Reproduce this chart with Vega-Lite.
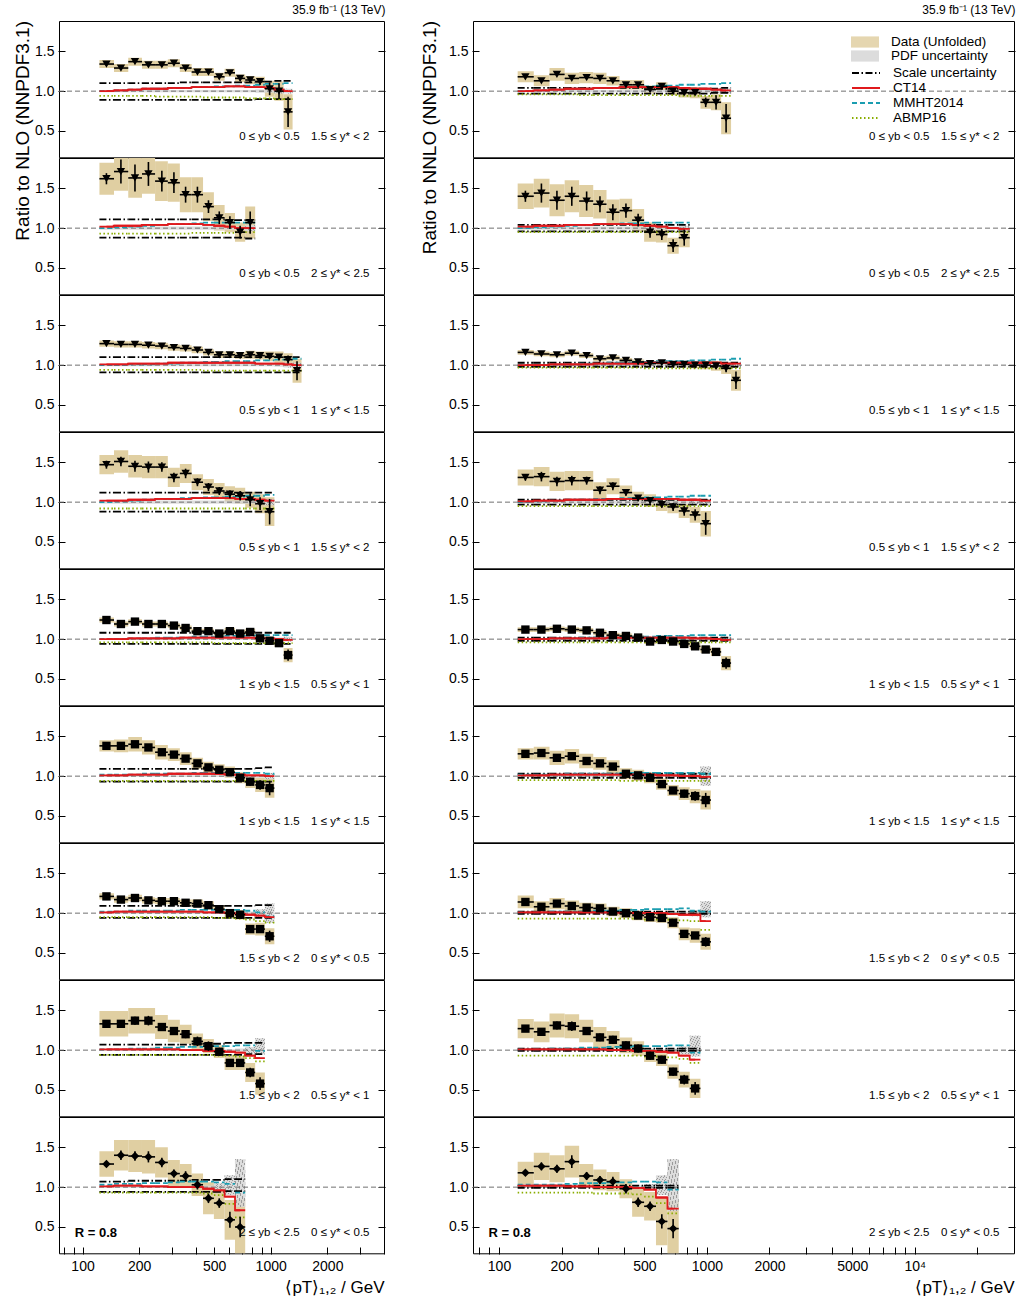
{
"$schema": "https://vega.github.io/schema/vega-lite/v6.json",
"background": "white",
"padding": {"left": 13, "top": 3, "right": 5, "bottom": 3},
"datasets": {
"L": [
{"p":1,"lab":"0 ≤ yb < 0.5\u2002\u20021.5 ≤ y* < 2"},
{"p":2,"lab":"0 ≤ yb < 0.5\u2002\u20022 ≤ y* < 2.5"},
{"p":3,"lab":"0.5 ≤ yb < 1\u2002\u20021 ≤ y* < 1.5"},
{"p":4,"lab":"0.5 ≤ yb < 1\u2002\u20021.5 ≤ y* < 2"},
{"p":5,"lab":"1 ≤ yb < 1.5\u2002\u20020.5 ≤ y* < 1"},
{"p":6,"lab":"1 ≤ yb < 1.5\u2002\u20021 ≤ y* < 1.5"},
{"p":7,"lab":"1.5 ≤ yb < 2\u2002\u20020 ≤ y* < 0.5"},
{"p":8,"lab":"1.5 ≤ yb < 2\u2002\u20020.5 ≤ y* < 1"},
{"p":9,"lab":"2 ≤ yb < 2.5\u2002\u20020 ≤ y* < 0.5"},
{"p":9,"r":"R = 0.8"},
{"p":1,"lo":123,"hi":147,"x":134,"v":1.34,"e":0.02,"bl":1.29,"bh":1.39,"ct":1.0,"mm":1.0,"ab":0.94,"su":1.1,"sd":0.89,"pl":0.985,"ph":1.015},
{"p":1,"lo":147,"hi":175,"x":160,"v":1.29,"e":0.02,"bl":1.24,"bh":1.34,"ct":1.01,"mm":1.01,"ab":0.94,"su":1.1,"sd":0.89,"pl":0.985,"ph":1.015},
{"p":1,"lo":175,"hi":207,"x":190,"v":1.37,"e":0.02,"bl":1.32,"bh":1.42,"ct":1.02,"mm":1.02,"ab":0.94,"su":1.1,"sd":0.89,"pl":0.985,"ph":1.015},
{"p":1,"lo":207,"hi":243,"x":224,"v":1.33,"e":0.02,"bl":1.28,"bh":1.38,"ct":1.03,"mm":1.03,"ab":0.94,"su":1.1,"sd":0.89,"pl":0.985,"ph":1.015},
{"p":1,"lo":243,"hi":284,"x":264,"v":1.33,"e":0.02,"bl":1.28,"bh":1.38,"ct":1.03,"mm":1.03,"ab":0.93,"su":1.1,"sd":0.89,"pl":0.985,"ph":1.015},
{"p":1,"lo":284,"hi":329,"x":306,"v":1.35,"e":0.02,"bl":1.3,"bh":1.4,"ct":1.04,"mm":1.04,"ab":0.93,"su":1.1,"sd":0.89,"pl":0.985,"ph":1.015},
{"p":1,"lo":329,"hi":380,"x":353,"v":1.29,"e":0.02,"bl":1.24,"bh":1.34,"ct":1.04,"mm":1.04,"ab":0.93,"su":1.11,"sd":0.89,"pl":0.985,"ph":1.015},
{"p":1,"lo":380,"hi":437,"x":408,"v":1.24,"e":0.02,"bl":1.19,"bh":1.29,"ct":1.05,"mm":1.05,"ab":0.93,"su":1.11,"sd":0.89,"pl":0.985,"ph":1.015},
{"p":1,"lo":437,"hi":499,"x":467,"v":1.24,"e":0.02,"bl":1.19,"bh":1.29,"ct":1.05,"mm":1.05,"ab":0.92,"su":1.11,"sd":0.89,"pl":0.985,"ph":1.015},
{"p":1,"lo":499,"hi":569,"x":533,"v":1.18,"e":0.02,"bl":1.13,"bh":1.23,"ct":1.05,"mm":1.06,"ab":0.92,"su":1.11,"sd":0.89,"pl":0.985,"ph":1.015},
{"p":1,"lo":569,"hi":646,"x":607,"v":1.23,"e":0.02,"bl":1.18,"bh":1.28,"ct":1.06,"mm":1.06,"ab":0.92,"su":1.11,"sd":0.89,"pl":0.985,"ph":1.015},
{"p":1,"lo":646,"hi":732,"x":688,"v":1.16,"e":0.03,"bl":1.11,"bh":1.21,"ct":1.06,"mm":1.07,"ab":0.92,"su":1.11,"sd":0.89,"pl":0.985,"ph":1.015},
{"p":1,"lo":732,"hi":827,"x":778,"v":1.14,"e":0.03,"bl":1.09,"bh":1.19,"ct":1.05,"mm":1.07,"ab":0.91,"su":1.11,"sd":0.89,"pl":0.985,"ph":1.015},
{"p":1,"lo":827,"hi":931,"x":878,"v":1.12,"e":0.04,"bl":1.06,"bh":1.18,"ct":1.05,"mm":1.08,"ab":0.91,"su":1.12,"sd":0.9,"pl":0.98,"ph":1.02},
{"p":1,"lo":931,"hi":1046,"x":987,"v":1.03,"e":0.08,"bl":0.93,"bh":1.13,"ct":1.04,"mm":1.09,"ab":0.91,"su":1.12,"sd":0.9,"pl":0.98,"ph":1.02},
{"p":1,"lo":1046,"hi":1171,"x":1107,"v":1.0,"e":0.1,"bl":0.88,"bh":1.12,"ct":1.02,"mm":1.09,"ab":0.9,"su":1.13,"sd":0.9,"pl":0.97,"ph":1.03},
{"p":1,"lo":1171,"hi":1307,"x":1237,"v":0.74,"e":0.19,"bl":0.52,"bh":0.96,"ct":1.0,"mm":1.1,"ab":0.9,"su":1.13,"sd":0.9,"pl":0.97,"ph":1.03},
{"p":2,"lo":123,"hi":147,"x":134,"v":1.62,"e":0.07,"bl":1.42,"bh":1.82,"ct":1.02,"mm":1.0,"ab":0.93,"su":1.11,"sd":0.88,"pl":0.98,"ph":1.02},
{"p":2,"lo":147,"hi":175,"x":160,"v":1.71,"e":0.15,"bl":1.47,"bh":1.95,"ct":1.03,"mm":1.01,"ab":0.93,"su":1.11,"sd":0.88,"pl":0.98,"ph":1.02},
{"p":2,"lo":175,"hi":207,"x":190,"v":1.63,"e":0.17,"bl":1.38,"bh":1.88,"ct":1.03,"mm":1.02,"ab":0.93,"su":1.11,"sd":0.88,"pl":0.98,"ph":1.02},
{"p":2,"lo":207,"hi":243,"x":224,"v":1.68,"e":0.15,"bl":1.43,"bh":1.93,"ct":1.04,"mm":1.03,"ab":0.93,"su":1.11,"sd":0.88,"pl":0.98,"ph":1.02},
{"p":2,"lo":243,"hi":284,"x":264,"v":1.59,"e":0.13,"bl":1.34,"bh":1.84,"ct":1.04,"mm":1.04,"ab":0.93,"su":1.11,"sd":0.88,"pl":0.98,"ph":1.02},
{"p":2,"lo":284,"hi":329,"x":306,"v":1.57,"e":0.13,"bl":1.33,"bh":1.81,"ct":1.05,"mm":1.05,"ab":0.93,"su":1.11,"sd":0.88,"pl":0.98,"ph":1.02},
{"p":2,"lo":329,"hi":380,"x":353,"v":1.42,"e":0.1,"bl":1.2,"bh":1.64,"ct":1.05,"mm":1.05,"ab":0.93,"su":1.11,"sd":0.88,"pl":0.98,"ph":1.02},
{"p":2,"lo":380,"hi":437,"x":408,"v":1.42,"e":0.1,"bl":1.2,"bh":1.64,"ct":1.05,"mm":1.06,"ab":0.94,"su":1.11,"sd":0.88,"pl":0.98,"ph":1.02},
{"p":2,"lo":437,"hi":499,"x":467,"v":1.27,"e":0.08,"bl":1.09,"bh":1.45,"ct":1.04,"mm":1.07,"ab":0.94,"su":1.11,"sd":0.88,"pl":0.98,"ph":1.02},
{"p":2,"lo":499,"hi":569,"x":533,"v":1.13,"e":0.08,"bl":0.97,"bh":1.29,"ct":1.03,"mm":1.07,"ab":0.94,"su":1.11,"sd":0.88,"pl":0.98,"ph":1.02},
{"p":2,"lo":569,"hi":646,"x":607,"v":1.07,"e":0.08,"bl":0.95,"bh":1.19,"ct":1.02,"mm":1.07,"ab":0.94,"su":1.1,"sd":0.88,"pl":0.98,"ph":1.02},
{"p":2,"lo":646,"hi":732,"x":688,"v":0.95,"e":0.08,"bl":0.83,"bh":1.07,"ct":1.0,"mm":1.07,"ab":0.95,"su":1.1,"sd":0.88,"pl":0.98,"ph":1.02},
{"p":2,"lo":732,"hi":827,"x":778,"v":1.07,"e":0.14,"bl":0.87,"bh":1.27,"ct":1.0,"mm":1.07,"ab":0.95,"su":1.1,"sd":0.87,"pl":0.96,"ph":1.04},
{"p":3,"lo":123,"hi":147,"x":134,"v":1.27,"e":0.02,"bl":1.23,"bh":1.31,"ct":1.01,"mm":1.0,"ab":0.94,"su":1.1,"sd":0.91,"pl":0.985,"ph":1.015},
{"p":3,"lo":147,"hi":175,"x":160,"v":1.26,"e":0.02,"bl":1.22,"bh":1.3,"ct":1.01,"mm":1.0,"ab":0.94,"su":1.1,"sd":0.91,"pl":0.985,"ph":1.015},
{"p":3,"lo":175,"hi":207,"x":190,"v":1.26,"e":0.02,"bl":1.22,"bh":1.3,"ct":1.02,"mm":1.01,"ab":0.94,"su":1.1,"sd":0.91,"pl":0.985,"ph":1.015},
{"p":3,"lo":207,"hi":243,"x":224,"v":1.25,"e":0.02,"bl":1.21,"bh":1.29,"ct":1.02,"mm":1.01,"ab":0.94,"su":1.1,"sd":0.91,"pl":0.985,"ph":1.015},
{"p":3,"lo":243,"hi":284,"x":264,"v":1.24,"e":0.02,"bl":1.2,"bh":1.28,"ct":1.02,"mm":1.02,"ab":0.94,"su":1.1,"sd":0.91,"pl":0.985,"ph":1.015},
{"p":3,"lo":284,"hi":329,"x":306,"v":1.22,"e":0.02,"bl":1.18,"bh":1.26,"ct":1.03,"mm":1.02,"ab":0.94,"su":1.1,"sd":0.91,"pl":0.985,"ph":1.015},
{"p":3,"lo":329,"hi":380,"x":353,"v":1.21,"e":0.02,"bl":1.17,"bh":1.25,"ct":1.03,"mm":1.03,"ab":0.94,"su":1.1,"sd":0.91,"pl":0.985,"ph":1.015},
{"p":3,"lo":380,"hi":437,"x":408,"v":1.19,"e":0.02,"bl":1.15,"bh":1.23,"ct":1.03,"mm":1.03,"ab":0.94,"su":1.1,"sd":0.91,"pl":0.985,"ph":1.015},
{"p":3,"lo":437,"hi":499,"x":467,"v":1.16,"e":0.02,"bl":1.12,"bh":1.2,"ct":1.03,"mm":1.04,"ab":0.93,"su":1.1,"sd":0.91,"pl":0.985,"ph":1.015},
{"p":3,"lo":499,"hi":569,"x":533,"v":1.13,"e":0.02,"bl":1.09,"bh":1.17,"ct":1.03,"mm":1.04,"ab":0.93,"su":1.1,"sd":0.91,"pl":0.985,"ph":1.015},
{"p":3,"lo":569,"hi":646,"x":607,"v":1.13,"e":0.02,"bl":1.09,"bh":1.17,"ct":1.03,"mm":1.05,"ab":0.93,"su":1.1,"sd":0.91,"pl":0.985,"ph":1.015},
{"p":3,"lo":646,"hi":732,"x":688,"v":1.12,"e":0.02,"bl":1.08,"bh":1.16,"ct":1.03,"mm":1.05,"ab":0.93,"su":1.1,"sd":0.91,"pl":0.985,"ph":1.015},
{"p":3,"lo":732,"hi":827,"x":778,"v":1.13,"e":0.02,"bl":1.08,"bh":1.18,"ct":1.03,"mm":1.05,"ab":0.93,"su":1.1,"sd":0.91,"pl":0.985,"ph":1.015},
{"p":3,"lo":827,"hi":931,"x":878,"v":1.12,"e":0.03,"bl":1.07,"bh":1.17,"ct":1.02,"mm":1.06,"ab":0.93,"su":1.1,"sd":0.91,"pl":0.985,"ph":1.015},
{"p":3,"lo":931,"hi":1046,"x":987,"v":1.11,"e":0.03,"bl":1.05,"bh":1.17,"ct":1.02,"mm":1.06,"ab":0.93,"su":1.1,"sd":0.91,"pl":0.985,"ph":1.015},
{"p":3,"lo":1046,"hi":1171,"x":1107,"v":1.1,"e":0.04,"bl":1.03,"bh":1.17,"ct":1.02,"mm":1.07,"ab":0.93,"su":1.1,"sd":0.91,"pl":0.98,"ph":1.02},
{"p":3,"lo":1171,"hi":1307,"x":1237,"v":1.07,"e":0.05,"bl":0.99,"bh":1.15,"ct":1.01,"mm":1.07,"ab":0.93,"su":1.1,"sd":0.91,"pl":0.97,"ph":1.03},
{"p":3,"lo":1307,"hi":1458,"x":1380,"v":0.93,"e":0.12,"bl":0.78,"bh":1.08,"ct":1.0,"mm":1.08,"ab":0.93,"su":1.1,"sd":0.91,"pl":0.97,"ph":1.03},
{"p":4,"lo":123,"hi":147,"x":134,"v":1.47,"e":0.05,"bl":1.35,"bh":1.59,"ct":1.02,"mm":1.0,"ab":0.92,"su":1.12,"sd":0.88,"pl":0.98,"ph":1.02},
{"p":4,"lo":147,"hi":175,"x":160,"v":1.51,"e":0.06,"bl":1.37,"bh":1.65,"ct":1.02,"mm":1.01,"ab":0.92,"su":1.12,"sd":0.88,"pl":0.98,"ph":1.02},
{"p":4,"lo":175,"hi":207,"x":190,"v":1.45,"e":0.07,"bl":1.31,"bh":1.59,"ct":1.03,"mm":1.02,"ab":0.92,"su":1.12,"sd":0.88,"pl":0.98,"ph":1.02},
{"p":4,"lo":207,"hi":243,"x":224,"v":1.44,"e":0.07,"bl":1.3,"bh":1.58,"ct":1.03,"mm":1.03,"ab":0.92,"su":1.12,"sd":0.88,"pl":0.98,"ph":1.02},
{"p":4,"lo":243,"hi":284,"x":264,"v":1.44,"e":0.06,"bl":1.3,"bh":1.58,"ct":1.04,"mm":1.04,"ab":0.92,"su":1.12,"sd":0.88,"pl":0.98,"ph":1.02},
{"p":4,"lo":284,"hi":329,"x":306,"v":1.31,"e":0.06,"bl":1.19,"bh":1.43,"ct":1.04,"mm":1.04,"ab":0.92,"su":1.12,"sd":0.88,"pl":0.98,"ph":1.02},
{"p":4,"lo":329,"hi":380,"x":353,"v":1.36,"e":0.06,"bl":1.24,"bh":1.48,"ct":1.04,"mm":1.05,"ab":0.92,"su":1.12,"sd":0.88,"pl":0.98,"ph":1.02},
{"p":4,"lo":380,"hi":437,"x":408,"v":1.25,"e":0.05,"bl":1.15,"bh":1.35,"ct":1.05,"mm":1.05,"ab":0.92,"su":1.12,"sd":0.88,"pl":0.98,"ph":1.02},
{"p":4,"lo":437,"hi":499,"x":467,"v":1.19,"e":0.05,"bl":1.09,"bh":1.29,"ct":1.05,"mm":1.06,"ab":0.92,"su":1.12,"sd":0.88,"pl":0.98,"ph":1.02},
{"p":4,"lo":499,"hi":569,"x":533,"v":1.14,"e":0.05,"bl":1.04,"bh":1.24,"ct":1.05,"mm":1.06,"ab":0.92,"su":1.12,"sd":0.88,"pl":0.98,"ph":1.02},
{"p":4,"lo":569,"hi":646,"x":607,"v":1.1,"e":0.05,"bl":1.0,"bh":1.2,"ct":1.05,"mm":1.07,"ab":0.92,"su":1.12,"sd":0.88,"pl":0.98,"ph":1.02},
{"p":4,"lo":646,"hi":732,"x":688,"v":1.08,"e":0.06,"bl":0.98,"bh":1.18,"ct":1.04,"mm":1.07,"ab":0.92,"su":1.12,"sd":0.88,"pl":0.98,"ph":1.02},
{"p":4,"lo":732,"hi":827,"x":778,"v":1.03,"e":0.08,"bl":0.93,"bh":1.13,"ct":1.04,"mm":1.08,"ab":0.92,"su":1.12,"sd":0.88,"pl":0.98,"ph":1.02},
{"p":4,"lo":827,"hi":931,"x":878,"v":0.98,"e":0.08,"bl":0.86,"bh":1.1,"ct":1.03,"mm":1.08,"ab":0.92,"su":1.12,"sd":0.88,"pl":0.97,"ph":1.03},
{"p":4,"lo":931,"hi":1046,"x":987,"v":0.88,"e":0.16,"bl":0.7,"bh":1.06,"ct":1.02,"mm":1.09,"ab":0.92,"su":1.12,"sd":0.88,"pl":0.96,"ph":1.04},
{"p":5,"lo":123,"hi":147,"x":134,"v":1.24,"e":0.01,"bl":1.21,"bh":1.27,"ct":1.0,"mm":1.0,"ab":0.96,"su":1.08,"sd":0.94,"pl":0.99,"ph":1.01},
{"p":5,"lo":147,"hi":175,"x":160,"v":1.19,"e":0.01,"bl":1.16,"bh":1.22,"ct":1.0,"mm":1.0,"ab":0.96,"su":1.08,"sd":0.94,"pl":0.99,"ph":1.01},
{"p":5,"lo":175,"hi":207,"x":190,"v":1.22,"e":0.01,"bl":1.19,"bh":1.25,"ct":1.01,"mm":1.01,"ab":0.96,"su":1.08,"sd":0.94,"pl":0.99,"ph":1.01},
{"p":5,"lo":207,"hi":243,"x":224,"v":1.19,"e":0.01,"bl":1.16,"bh":1.22,"ct":1.01,"mm":1.01,"ab":0.96,"su":1.08,"sd":0.94,"pl":0.99,"ph":1.01},
{"p":5,"lo":243,"hi":284,"x":264,"v":1.19,"e":0.01,"bl":1.16,"bh":1.22,"ct":1.01,"mm":1.02,"ab":0.96,"su":1.08,"sd":0.94,"pl":0.99,"ph":1.01},
{"p":5,"lo":284,"hi":329,"x":306,"v":1.17,"e":0.01,"bl":1.14,"bh":1.2,"ct":1.01,"mm":1.02,"ab":0.96,"su":1.08,"sd":0.94,"pl":0.99,"ph":1.01},
{"p":5,"lo":329,"hi":380,"x":353,"v":1.14,"e":0.01,"bl":1.11,"bh":1.17,"ct":1.02,"mm":1.02,"ab":0.96,"su":1.08,"sd":0.94,"pl":0.99,"ph":1.01},
{"p":5,"lo":380,"hi":437,"x":408,"v":1.1,"e":0.01,"bl":1.07,"bh":1.13,"ct":1.02,"mm":1.03,"ab":0.96,"su":1.08,"sd":0.94,"pl":0.99,"ph":1.01},
{"p":5,"lo":437,"hi":499,"x":467,"v":1.1,"e":0.01,"bl":1.07,"bh":1.13,"ct":1.02,"mm":1.03,"ab":0.96,"su":1.08,"sd":0.94,"pl":0.99,"ph":1.01},
{"p":5,"lo":499,"hi":569,"x":533,"v":1.07,"e":0.01,"bl":1.04,"bh":1.1,"ct":1.02,"mm":1.03,"ab":0.95,"su":1.08,"sd":0.94,"pl":0.99,"ph":1.01},
{"p":5,"lo":569,"hi":646,"x":607,"v":1.1,"e":0.01,"bl":1.06,"bh":1.14,"ct":1.02,"mm":1.04,"ab":0.95,"su":1.08,"sd":0.94,"pl":0.99,"ph":1.01},
{"p":5,"lo":646,"hi":732,"x":688,"v":1.07,"e":0.01,"bl":1.03,"bh":1.11,"ct":1.02,"mm":1.04,"ab":0.95,"su":1.08,"sd":0.94,"pl":0.99,"ph":1.01},
{"p":5,"lo":732,"hi":827,"x":778,"v":1.09,"e":0.01,"bl":1.05,"bh":1.13,"ct":1.02,"mm":1.04,"ab":0.95,"su":1.08,"sd":0.94,"pl":0.99,"ph":1.01},
{"p":5,"lo":827,"hi":931,"x":878,"v":1.01,"e":0.02,"bl":0.97,"bh":1.05,"ct":1.01,"mm":1.05,"ab":0.95,"su":1.08,"sd":0.94,"pl":0.99,"ph":1.01},
{"p":5,"lo":931,"hi":1046,"x":987,"v":0.98,"e":0.03,"bl":0.93,"bh":1.03,"ct":1.01,"mm":1.05,"ab":0.95,"su":1.08,"sd":0.94,"pl":0.98,"ph":1.02},
{"p":5,"lo":1046,"hi":1171,"x":1107,"v":0.95,"e":0.03,"bl":0.9,"bh":1.0,"ct":1.0,"mm":1.05,"ab":0.95,"su":1.08,"sd":0.94,"pl":0.98,"ph":1.02},
{"p":5,"lo":1171,"hi":1307,"x":1237,"v":0.8,"e":0.07,"bl":0.71,"bh":0.89,"ct":0.99,"mm":1.05,"ab":0.95,"su":1.08,"sd":0.94,"pl":0.97,"ph":1.03},
{"p":6,"lo":123,"hi":147,"x":134,"v":1.38,"e":0.02,"bl":1.31,"bh":1.45,"ct":1.01,"mm":1.02,"ab":0.94,"su":1.09,"sd":0.93,"pl":0.99,"ph":1.01},
{"p":6,"lo":147,"hi":175,"x":160,"v":1.38,"e":0.03,"bl":1.3,"bh":1.46,"ct":1.01,"mm":1.02,"ab":0.94,"su":1.09,"sd":0.93,"pl":0.99,"ph":1.01},
{"p":6,"lo":175,"hi":207,"x":190,"v":1.4,"e":0.04,"bl":1.31,"bh":1.49,"ct":1.02,"mm":1.02,"ab":0.94,"su":1.09,"sd":0.93,"pl":0.99,"ph":1.01},
{"p":6,"lo":207,"hi":243,"x":224,"v":1.36,"e":0.04,"bl":1.27,"bh":1.45,"ct":1.02,"mm":1.03,"ab":0.94,"su":1.09,"sd":0.93,"pl":0.99,"ph":1.01},
{"p":6,"lo":243,"hi":284,"x":264,"v":1.3,"e":0.04,"bl":1.21,"bh":1.39,"ct":1.02,"mm":1.03,"ab":0.94,"su":1.09,"sd":0.93,"pl":0.99,"ph":1.01},
{"p":6,"lo":284,"hi":329,"x":306,"v":1.27,"e":0.03,"bl":1.19,"bh":1.35,"ct":1.03,"mm":1.03,"ab":0.94,"su":1.09,"sd":0.93,"pl":0.99,"ph":1.01},
{"p":6,"lo":329,"hi":380,"x":353,"v":1.22,"e":0.03,"bl":1.14,"bh":1.3,"ct":1.03,"mm":1.03,"ab":0.94,"su":1.09,"sd":0.93,"pl":0.99,"ph":1.01},
{"p":6,"lo":380,"hi":437,"x":408,"v":1.16,"e":0.03,"bl":1.09,"bh":1.23,"ct":1.03,"mm":1.04,"ab":0.94,"su":1.09,"sd":0.93,"pl":0.99,"ph":1.01},
{"p":6,"lo":437,"hi":499,"x":467,"v":1.11,"e":0.03,"bl":1.04,"bh":1.18,"ct":1.03,"mm":1.04,"ab":0.94,"su":1.09,"sd":0.93,"pl":0.99,"ph":1.01},
{"p":6,"lo":499,"hi":569,"x":533,"v":1.08,"e":0.03,"bl":1.01,"bh":1.15,"ct":1.03,"mm":1.04,"ab":0.94,"su":1.09,"sd":0.93,"pl":0.99,"ph":1.01},
{"p":6,"lo":569,"hi":646,"x":607,"v":1.05,"e":0.03,"bl":0.98,"bh":1.12,"ct":1.02,"mm":1.04,"ab":0.94,"su":1.09,"sd":0.93,"pl":0.99,"ph":1.01},
{"p":6,"lo":646,"hi":732,"x":688,"v":0.98,"e":0.04,"bl":0.91,"bh":1.05,"ct":1.02,"mm":1.04,"ab":0.94,"su":1.09,"sd":0.93,"pl":0.99,"ph":1.01},
{"p":6,"lo":732,"hi":827,"x":778,"v":0.93,"e":0.05,"bl":0.85,"bh":1.01,"ct":1.01,"mm":1.04,"ab":0.94,"su":1.09,"sd":0.93,"pl":0.98,"ph":1.02},
{"p":6,"lo":827,"hi":931,"x":878,"v":0.89,"e":0.06,"bl":0.8,"bh":0.98,"ct":1.01,"mm":1.04,"ab":0.94,"su":1.1,"sd":0.93,"pl":0.98,"ph":1.02},
{"p":6,"lo":931,"hi":1046,"x":987,"v":0.85,"e":0.09,"bl":0.73,"bh":0.97,"ct":1.0,"mm":1.03,"ab":0.94,"su":1.11,"sd":0.93,"pl":0.96,"ph":1.04},
{"p":7,"lo":123,"hi":147,"x":134,"v":1.21,"e":0.01,"bl":1.17,"bh":1.25,"ct":1.01,"mm":1.02,"ab":0.95,"su":1.09,"sd":0.94,"pl":0.99,"ph":1.01},
{"p":7,"lo":147,"hi":175,"x":160,"v":1.17,"e":0.01,"bl":1.13,"bh":1.21,"ct":1.02,"mm":1.02,"ab":0.95,"su":1.09,"sd":0.94,"pl":0.99,"ph":1.01},
{"p":7,"lo":175,"hi":207,"x":190,"v":1.19,"e":0.01,"bl":1.15,"bh":1.23,"ct":1.02,"mm":1.03,"ab":0.95,"su":1.09,"sd":0.94,"pl":0.99,"ph":1.01},
{"p":7,"lo":207,"hi":243,"x":224,"v":1.16,"e":0.01,"bl":1.12,"bh":1.2,"ct":1.02,"mm":1.03,"ab":0.95,"su":1.09,"sd":0.94,"pl":0.99,"ph":1.01},
{"p":7,"lo":243,"hi":284,"x":264,"v":1.15,"e":0.01,"bl":1.11,"bh":1.19,"ct":1.02,"mm":1.03,"ab":0.95,"su":1.09,"sd":0.94,"pl":0.99,"ph":1.01},
{"p":7,"lo":284,"hi":329,"x":306,"v":1.15,"e":0.01,"bl":1.11,"bh":1.19,"ct":1.02,"mm":1.03,"ab":0.95,"su":1.09,"sd":0.94,"pl":0.99,"ph":1.01},
{"p":7,"lo":329,"hi":380,"x":353,"v":1.13,"e":0.01,"bl":1.09,"bh":1.17,"ct":1.02,"mm":1.04,"ab":0.95,"su":1.09,"sd":0.94,"pl":0.99,"ph":1.01},
{"p":7,"lo":380,"hi":437,"x":408,"v":1.12,"e":0.02,"bl":1.07,"bh":1.17,"ct":1.02,"mm":1.04,"ab":0.95,"su":1.09,"sd":0.94,"pl":0.99,"ph":1.01},
{"p":7,"lo":437,"hi":499,"x":467,"v":1.1,"e":0.02,"bl":1.05,"bh":1.15,"ct":1.01,"mm":1.04,"ab":0.95,"su":1.09,"sd":0.94,"pl":0.99,"ph":1.01},
{"p":7,"lo":499,"hi":569,"x":533,"v":1.05,"e":0.02,"bl":1.0,"bh":1.1,"ct":1.01,"mm":1.04,"ab":0.94,"su":1.09,"sd":0.94,"pl":0.99,"ph":1.01},
{"p":7,"lo":569,"hi":646,"x":607,"v":1.0,"e":0.02,"bl":0.95,"bh":1.05,"ct":1.0,"mm":1.04,"ab":0.94,"su":1.09,"sd":0.94,"pl":0.99,"ph":1.01},
{"p":7,"lo":646,"hi":732,"x":688,"v":0.98,"e":0.03,"bl":0.92,"bh":1.04,"ct":0.99,"mm":1.04,"ab":0.93,"su":1.09,"sd":0.94,"pl":0.98,"ph":1.02},
{"p":7,"lo":732,"hi":827,"x":778,"v":0.8,"e":0.04,"bl":0.73,"bh":0.87,"ct":0.98,"mm":1.03,"ab":0.92,"su":1.09,"sd":0.94,"pl":0.98,"ph":1.02},
{"p":7,"lo":827,"hi":931,"x":878,"v":0.8,"e":0.05,"bl":0.72,"bh":0.88,"ct":0.97,"mm":1.01,"ab":0.9,"su":1.1,"sd":0.94,"pl":0.95,"ph":1.05},
{"p":7,"lo":931,"hi":1046,"x":987,"v":0.71,"e":0.07,"bl":0.61,"bh":0.81,"ct":0.95,"mm":0.96,"ab":0.88,"su":1.1,"sd":0.94,"pl":0.88,"ph":1.12},
{"p":8,"lo":123,"hi":147,"x":134,"v":1.33,"e":0.03,"bl":1.17,"bh":1.49,"ct":1.01,"mm":1.01,"ab":0.94,"su":1.07,"sd":0.94,"pl":0.99,"ph":1.01},
{"p":8,"lo":147,"hi":175,"x":160,"v":1.33,"e":0.04,"bl":1.17,"bh":1.49,"ct":1.01,"mm":1.01,"ab":0.94,"su":1.07,"sd":0.94,"pl":0.99,"ph":1.01},
{"p":8,"lo":175,"hi":207,"x":190,"v":1.37,"e":0.05,"bl":1.21,"bh":1.53,"ct":1.01,"mm":1.02,"ab":0.94,"su":1.07,"sd":0.94,"pl":0.99,"ph":1.01},
{"p":8,"lo":207,"hi":243,"x":224,"v":1.37,"e":0.06,"bl":1.21,"bh":1.53,"ct":1.01,"mm":1.02,"ab":0.94,"su":1.07,"sd":0.94,"pl":0.99,"ph":1.01},
{"p":8,"lo":243,"hi":284,"x":264,"v":1.29,"e":0.05,"bl":1.14,"bh":1.44,"ct":1.01,"mm":1.03,"ab":0.94,"su":1.07,"sd":0.94,"pl":0.99,"ph":1.01},
{"p":8,"lo":284,"hi":329,"x":306,"v":1.24,"e":0.05,"bl":1.1,"bh":1.38,"ct":1.01,"mm":1.03,"ab":0.94,"su":1.07,"sd":0.94,"pl":0.99,"ph":1.01},
{"p":8,"lo":329,"hi":380,"x":353,"v":1.2,"e":0.05,"bl":1.08,"bh":1.32,"ct":1.0,"mm":1.04,"ab":0.94,"su":1.07,"sd":0.94,"pl":0.99,"ph":1.01},
{"p":8,"lo":380,"hi":437,"x":408,"v":1.11,"e":0.06,"bl":1.01,"bh":1.21,"ct":1.0,"mm":1.04,"ab":0.94,"su":1.08,"sd":0.94,"pl":0.99,"ph":1.01},
{"p":8,"lo":437,"hi":499,"x":467,"v":1.05,"e":0.06,"bl":0.96,"bh":1.14,"ct":0.99,"mm":1.05,"ab":0.94,"su":1.08,"sd":0.94,"pl":0.99,"ph":1.01},
{"p":8,"lo":499,"hi":569,"x":533,"v":0.98,"e":0.05,"bl":0.9,"bh":1.06,"ct":0.99,"mm":1.05,"ab":0.93,"su":1.08,"sd":0.94,"pl":0.99,"ph":1.01},
{"p":8,"lo":569,"hi":646,"x":607,"v":0.84,"e":0.05,"bl":0.75,"bh":0.93,"ct":0.98,"mm":1.05,"ab":0.93,"su":1.09,"sd":0.94,"pl":0.99,"ph":1.01},
{"p":8,"lo":646,"hi":732,"x":688,"v":0.84,"e":0.05,"bl":0.75,"bh":0.93,"ct":0.97,"mm":1.06,"ab":0.92,"su":1.09,"sd":0.94,"pl":0.98,"ph":1.02},
{"p":8,"lo":732,"hi":827,"x":778,"v":0.72,"e":0.06,"bl":0.6,"bh":0.84,"ct":0.93,"mm":1.06,"ab":0.9,"su":1.09,"sd":0.95,"pl":0.96,"ph":1.04},
{"p":8,"lo":827,"hi":931,"x":878,"v":0.58,"e":0.08,"bl":0.44,"bh":0.72,"ct":0.9,"mm":0.99,"ab":0.86,"su":1.09,"sd":0.95,"pl":0.95,"ph":1.15},
{"p":9,"lo":123,"hi":147,"x":134,"v":1.29,"e":0.02,"bl":1.13,"bh":1.45,"ct":1.01,"mm":1.03,"ab":0.93,"su":1.07,"sd":0.94,"pl":0.99,"ph":1.01},
{"p":9,"lo":147,"hi":175,"x":160,"v":1.4,"e":0.06,"bl":1.21,"bh":1.59,"ct":1.02,"mm":1.04,"ab":0.93,"su":1.07,"sd":0.94,"pl":0.99,"ph":1.01},
{"p":9,"lo":175,"hi":207,"x":190,"v":1.39,"e":0.06,"bl":1.19,"bh":1.59,"ct":1.02,"mm":1.04,"ab":0.93,"su":1.08,"sd":0.94,"pl":0.99,"ph":1.01},
{"p":9,"lo":207,"hi":243,"x":224,"v":1.38,"e":0.07,"bl":1.17,"bh":1.59,"ct":1.01,"mm":1.05,"ab":0.93,"su":1.08,"sd":0.94,"pl":0.99,"ph":1.01},
{"p":9,"lo":243,"hi":284,"x":264,"v":1.31,"e":0.06,"bl":1.12,"bh":1.5,"ct":1.01,"mm":1.05,"ab":0.93,"su":1.08,"sd":0.94,"pl":0.99,"ph":1.01},
{"p":9,"lo":284,"hi":329,"x":306,"v":1.17,"e":0.05,"bl":1.0,"bh":1.34,"ct":1.0,"mm":1.06,"ab":0.93,"su":1.08,"sd":0.94,"pl":0.99,"ph":1.01},
{"p":9,"lo":329,"hi":380,"x":353,"v":1.14,"e":0.06,"bl":0.99,"bh":1.29,"ct":1.0,"mm":1.07,"ab":0.93,"su":1.08,"sd":0.94,"pl":0.99,"ph":1.01},
{"p":9,"lo":380,"hi":437,"x":408,"v":1.03,"e":0.06,"bl":0.89,"bh":1.17,"ct":1.0,"mm":1.07,"ab":0.93,"su":1.09,"sd":0.94,"pl":0.99,"ph":1.01},
{"p":9,"lo":437,"hi":499,"x":467,"v":0.86,"e":0.06,"bl":0.66,"bh":1.06,"ct":0.98,"mm":1.07,"ab":0.92,"su":1.09,"sd":0.94,"pl":0.98,"ph":1.02},
{"p":9,"lo":499,"hi":569,"x":533,"v":0.8,"e":0.06,"bl":0.6,"bh":1.0,"ct":0.96,"mm":1.06,"ab":0.9,"su":1.09,"sd":0.94,"pl":0.95,"ph":1.05},
{"p":9,"lo":569,"hi":646,"x":607,"v":0.59,"e":0.1,"bl":0.34,"bh":0.84,"ct":0.88,"mm":1.04,"ab":0.79,"su":1.1,"sd":0.95,"pl":0.9,"ph":1.15},
{"p":9,"lo":646,"hi":732,"x":688,"v":0.5,"e":0.13,"bl":0.15,"bh":0.85,"ct":0.71,"mm":0.93,"ab":0.62,"su":1.1,"sd":0.95,"pl":0.75,"ph":1.35}
],
"R": [
{"p":1,"lab":"0 ≤ yb < 0.5\u2002\u20021.5 ≤ y* < 2"},
{"p":2,"lab":"0 ≤ yb < 0.5\u2002\u20022 ≤ y* < 2.5"},
{"p":3,"lab":"0.5 ≤ yb < 1\u2002\u20021 ≤ y* < 1.5"},
{"p":4,"lab":"0.5 ≤ yb < 1\u2002\u20021.5 ≤ y* < 2"},
{"p":5,"lab":"1 ≤ yb < 1.5\u2002\u20020.5 ≤ y* < 1"},
{"p":6,"lab":"1 ≤ yb < 1.5\u2002\u20021 ≤ y* < 1.5"},
{"p":7,"lab":"1.5 ≤ yb < 2\u2002\u20020 ≤ y* < 0.5"},
{"p":8,"lab":"1.5 ≤ yb < 2\u2002\u20020.5 ≤ y* < 1"},
{"p":9,"lab":"2 ≤ yb < 2.5\u2002\u20020 ≤ y* < 0.5"},
{"p":9,"r":"R = 0.8"},
{"p":1,"lo":123,"hi":147,"x":134,"v":1.18,"e":0.02,"bl":1.11,"bh":1.25,"ct":1.0,"mm":1.0,"ab":0.96,"su":1.04,"sd":0.97,"pl":0.985,"ph":1.015},
{"p":1,"lo":147,"hi":175,"x":160,"v":1.13,"e":0.02,"bl":1.06,"bh":1.2,"ct":1.01,"mm":1.01,"ab":0.96,"su":1.04,"sd":0.97,"pl":0.985,"ph":1.015},
{"p":1,"lo":175,"hi":207,"x":190,"v":1.21,"e":0.02,"bl":1.13,"bh":1.29,"ct":1.02,"mm":1.02,"ab":0.96,"su":1.04,"sd":0.97,"pl":0.985,"ph":1.015},
{"p":1,"lo":207,"hi":243,"x":224,"v":1.16,"e":0.02,"bl":1.09,"bh":1.23,"ct":1.03,"mm":1.03,"ab":0.96,"su":1.04,"sd":0.97,"pl":0.985,"ph":1.015},
{"p":1,"lo":243,"hi":284,"x":264,"v":1.17,"e":0.02,"bl":1.1,"bh":1.24,"ct":1.03,"mm":1.03,"ab":0.95,"su":1.04,"sd":0.97,"pl":0.985,"ph":1.015},
{"p":1,"lo":284,"hi":329,"x":306,"v":1.16,"e":0.02,"bl":1.09,"bh":1.23,"ct":1.04,"mm":1.04,"ab":0.95,"su":1.04,"sd":0.97,"pl":0.985,"ph":1.015},
{"p":1,"lo":329,"hi":380,"x":353,"v":1.13,"e":0.02,"bl":1.07,"bh":1.19,"ct":1.04,"mm":1.04,"ab":0.95,"su":1.04,"sd":0.97,"pl":0.985,"ph":1.015},
{"p":1,"lo":380,"hi":437,"x":408,"v":1.08,"e":0.02,"bl":1.02,"bh":1.14,"ct":1.05,"mm":1.05,"ab":0.95,"su":1.04,"sd":0.97,"pl":0.985,"ph":1.015},
{"p":1,"lo":437,"hi":499,"x":467,"v":1.08,"e":0.02,"bl":1.02,"bh":1.14,"ct":1.05,"mm":1.05,"ab":0.95,"su":1.04,"sd":0.97,"pl":0.985,"ph":1.015},
{"p":1,"lo":499,"hi":569,"x":533,"v":1.02,"e":0.02,"bl":0.97,"bh":1.07,"ct":1.05,"mm":1.06,"ab":0.95,"su":1.04,"sd":0.97,"pl":0.985,"ph":1.015},
{"p":1,"lo":569,"hi":646,"x":607,"v":1.06,"e":0.02,"bl":1.01,"bh":1.11,"ct":1.05,"mm":1.07,"ab":0.95,"su":1.03,"sd":0.97,"pl":0.985,"ph":1.015},
{"p":1,"lo":646,"hi":732,"x":688,"v":1.0,"e":0.03,"bl":0.95,"bh":1.05,"ct":1.05,"mm":1.07,"ab":0.95,"su":1.03,"sd":0.97,"pl":0.985,"ph":1.015},
{"p":1,"lo":732,"hi":827,"x":778,"v":0.98,"e":0.03,"bl":0.92,"bh":1.04,"ct":1.04,"mm":1.08,"ab":0.94,"su":1.03,"sd":0.97,"pl":0.985,"ph":1.015},
{"p":1,"lo":827,"hi":931,"x":878,"v":0.98,"e":0.03,"bl":0.91,"bh":1.05,"ct":1.03,"mm":1.08,"ab":0.94,"su":1.03,"sd":0.97,"pl":0.98,"ph":1.02},
{"p":1,"lo":931,"hi":1046,"x":987,"v":0.86,"e":0.06,"bl":0.78,"bh":0.94,"ct":1.03,"mm":1.09,"ab":0.94,"su":1.03,"sd":0.97,"pl":0.98,"ph":1.02},
{"p":1,"lo":1046,"hi":1171,"x":1107,"v":0.86,"e":0.09,"bl":0.76,"bh":0.96,"ct":1.02,"mm":1.09,"ab":0.94,"su":1.03,"sd":0.98,"pl":0.97,"ph":1.03},
{"p":1,"lo":1171,"hi":1307,"x":1237,"v":0.66,"e":0.18,"bl":0.46,"bh":0.86,"ct":1.01,"mm":1.1,"ab":0.94,"su":1.04,"sd":0.98,"pl":0.97,"ph":1.03},
{"p":2,"lo":123,"hi":147,"x":134,"v":1.4,"e":0.07,"bl":1.24,"bh":1.56,"ct":1.02,"mm":1.0,"ab":0.95,"su":1.04,"sd":0.96,"pl":0.98,"ph":1.02},
{"p":2,"lo":147,"hi":175,"x":160,"v":1.44,"e":0.12,"bl":1.26,"bh":1.62,"ct":1.03,"mm":1.01,"ab":0.95,"su":1.04,"sd":0.96,"pl":0.98,"ph":1.02},
{"p":2,"lo":175,"hi":207,"x":190,"v":1.35,"e":0.12,"bl":1.15,"bh":1.55,"ct":1.03,"mm":1.02,"ab":0.95,"su":1.04,"sd":0.96,"pl":0.98,"ph":1.02},
{"p":2,"lo":207,"hi":243,"x":224,"v":1.4,"e":0.12,"bl":1.2,"bh":1.6,"ct":1.04,"mm":1.03,"ab":0.95,"su":1.04,"sd":0.96,"pl":0.98,"ph":1.02},
{"p":2,"lo":243,"hi":284,"x":264,"v":1.34,"e":0.12,"bl":1.14,"bh":1.54,"ct":1.04,"mm":1.04,"ab":0.95,"su":1.04,"sd":0.96,"pl":0.98,"ph":1.02},
{"p":2,"lo":284,"hi":329,"x":306,"v":1.3,"e":0.1,"bl":1.12,"bh":1.48,"ct":1.05,"mm":1.05,"ab":0.95,"su":1.04,"sd":0.96,"pl":0.98,"ph":1.02},
{"p":2,"lo":329,"hi":380,"x":353,"v":1.2,"e":0.1,"bl":1.04,"bh":1.36,"ct":1.05,"mm":1.05,"ab":0.95,"su":1.04,"sd":0.96,"pl":0.98,"ph":1.02},
{"p":2,"lo":380,"hi":437,"x":408,"v":1.22,"e":0.09,"bl":1.07,"bh":1.37,"ct":1.05,"mm":1.06,"ab":0.95,"su":1.04,"sd":0.96,"pl":0.98,"ph":1.02},
{"p":2,"lo":437,"hi":499,"x":467,"v":1.1,"e":0.08,"bl":0.96,"bh":1.24,"ct":1.04,"mm":1.06,"ab":0.95,"su":1.04,"sd":0.96,"pl":0.98,"ph":1.02},
{"p":2,"lo":499,"hi":569,"x":533,"v":0.95,"e":0.07,"bl":0.83,"bh":1.07,"ct":1.03,"mm":1.07,"ab":0.95,"su":1.04,"sd":0.96,"pl":0.98,"ph":1.02},
{"p":2,"lo":569,"hi":646,"x":607,"v":0.92,"e":0.07,"bl":0.82,"bh":1.02,"ct":1.02,"mm":1.07,"ab":0.95,"su":1.04,"sd":0.96,"pl":0.98,"ph":1.02},
{"p":2,"lo":646,"hi":732,"x":688,"v":0.78,"e":0.08,"bl":0.68,"bh":0.88,"ct":1.0,"mm":1.07,"ab":0.95,"su":1.04,"sd":0.96,"pl":0.98,"ph":1.02},
{"p":2,"lo":732,"hi":827,"x":778,"v":0.88,"e":0.1,"bl":0.76,"bh":1.0,"ct":0.99,"mm":1.07,"ab":0.95,"su":1.04,"sd":0.96,"pl":0.97,"ph":1.03},
{"p":3,"lo":123,"hi":147,"x":134,"v":1.16,"e":0.01,"bl":1.13,"bh":1.19,"ct":1.0,"mm":1.0,"ab":0.97,"su":1.03,"sd":0.98,"pl":0.985,"ph":1.015},
{"p":3,"lo":147,"hi":175,"x":160,"v":1.14,"e":0.01,"bl":1.11,"bh":1.17,"ct":1.0,"mm":1.0,"ab":0.97,"su":1.03,"sd":0.98,"pl":0.985,"ph":1.015},
{"p":3,"lo":175,"hi":207,"x":190,"v":1.13,"e":0.01,"bl":1.1,"bh":1.16,"ct":1.01,"mm":1.01,"ab":0.97,"su":1.03,"sd":0.98,"pl":0.985,"ph":1.015},
{"p":3,"lo":207,"hi":243,"x":224,"v":1.15,"e":0.01,"bl":1.12,"bh":1.18,"ct":1.01,"mm":1.01,"ab":0.97,"su":1.03,"sd":0.98,"pl":0.985,"ph":1.015},
{"p":3,"lo":243,"hi":284,"x":264,"v":1.12,"e":0.01,"bl":1.09,"bh":1.15,"ct":1.01,"mm":1.02,"ab":0.97,"su":1.03,"sd":0.98,"pl":0.985,"ph":1.015},
{"p":3,"lo":284,"hi":329,"x":306,"v":1.08,"e":0.01,"bl":1.05,"bh":1.11,"ct":1.02,"mm":1.02,"ab":0.97,"su":1.03,"sd":0.98,"pl":0.985,"ph":1.015},
{"p":3,"lo":329,"hi":380,"x":353,"v":1.09,"e":0.01,"bl":1.06,"bh":1.12,"ct":1.02,"mm":1.03,"ab":0.97,"su":1.03,"sd":0.98,"pl":0.985,"ph":1.015},
{"p":3,"lo":380,"hi":437,"x":408,"v":1.06,"e":0.01,"bl":1.03,"bh":1.09,"ct":1.02,"mm":1.03,"ab":0.97,"su":1.03,"sd":0.98,"pl":0.985,"ph":1.015},
{"p":3,"lo":437,"hi":499,"x":467,"v":1.04,"e":0.01,"bl":1.01,"bh":1.07,"ct":1.02,"mm":1.04,"ab":0.97,"su":1.03,"sd":0.98,"pl":0.985,"ph":1.015},
{"p":3,"lo":499,"hi":569,"x":533,"v":1.02,"e":0.01,"bl":0.99,"bh":1.05,"ct":1.03,"mm":1.04,"ab":0.96,"su":1.03,"sd":0.98,"pl":0.985,"ph":1.015},
{"p":3,"lo":569,"hi":646,"x":607,"v":1.03,"e":0.01,"bl":1.0,"bh":1.06,"ct":1.03,"mm":1.05,"ab":0.96,"su":1.03,"sd":0.98,"pl":0.985,"ph":1.015},
{"p":3,"lo":646,"hi":732,"x":688,"v":1.01,"e":0.01,"bl":0.98,"bh":1.04,"ct":1.03,"mm":1.05,"ab":0.96,"su":1.03,"sd":0.98,"pl":0.985,"ph":1.015},
{"p":3,"lo":732,"hi":827,"x":778,"v":1.01,"e":0.01,"bl":0.98,"bh":1.04,"ct":1.03,"mm":1.05,"ab":0.96,"su":1.03,"sd":0.98,"pl":0.985,"ph":1.015},
{"p":3,"lo":827,"hi":931,"x":878,"v":1.0,"e":0.02,"bl":0.96,"bh":1.04,"ct":1.03,"mm":1.06,"ab":0.96,"su":1.03,"sd":0.98,"pl":0.985,"ph":1.015},
{"p":3,"lo":931,"hi":1046,"x":987,"v":1.0,"e":0.03,"bl":0.95,"bh":1.05,"ct":1.03,"mm":1.06,"ab":0.96,"su":1.03,"sd":0.98,"pl":0.98,"ph":1.02},
{"p":3,"lo":1046,"hi":1171,"x":1107,"v":0.99,"e":0.04,"bl":0.93,"bh":1.05,"ct":1.03,"mm":1.07,"ab":0.96,"su":1.03,"sd":0.98,"pl":0.98,"ph":1.02},
{"p":3,"lo":1171,"hi":1307,"x":1237,"v":0.96,"e":0.05,"bl":0.89,"bh":1.03,"ct":1.02,"mm":1.07,"ab":0.96,"su":1.03,"sd":0.98,"pl":0.97,"ph":1.03},
{"p":3,"lo":1307,"hi":1458,"x":1380,"v":0.81,"e":0.11,"bl":0.68,"bh":0.94,"ct":1.02,"mm":1.08,"ab":0.96,"su":1.03,"sd":0.98,"pl":0.97,"ph":1.03},
{"p":4,"lo":123,"hi":147,"x":134,"v":1.31,"e":0.04,"bl":1.21,"bh":1.41,"ct":1.01,"mm":1.0,"ab":0.95,"su":1.03,"sd":0.97,"pl":0.98,"ph":1.02},
{"p":4,"lo":147,"hi":175,"x":160,"v":1.32,"e":0.06,"bl":1.2,"bh":1.44,"ct":1.02,"mm":1.01,"ab":0.95,"su":1.03,"sd":0.97,"pl":0.98,"ph":1.02},
{"p":4,"lo":175,"hi":207,"x":190,"v":1.26,"e":0.06,"bl":1.14,"bh":1.38,"ct":1.02,"mm":1.02,"ab":0.95,"su":1.03,"sd":0.97,"pl":0.98,"ph":1.02},
{"p":4,"lo":207,"hi":243,"x":224,"v":1.27,"e":0.06,"bl":1.15,"bh":1.39,"ct":1.03,"mm":1.03,"ab":0.95,"su":1.03,"sd":0.97,"pl":0.98,"ph":1.02},
{"p":4,"lo":243,"hi":284,"x":264,"v":1.27,"e":0.05,"bl":1.15,"bh":1.39,"ct":1.03,"mm":1.03,"ab":0.95,"su":1.03,"sd":0.97,"pl":0.98,"ph":1.02},
{"p":4,"lo":284,"hi":329,"x":306,"v":1.15,"e":0.05,"bl":1.05,"bh":1.25,"ct":1.03,"mm":1.04,"ab":0.95,"su":1.03,"sd":0.97,"pl":0.98,"ph":1.02},
{"p":4,"lo":329,"hi":380,"x":353,"v":1.2,"e":0.05,"bl":1.1,"bh":1.3,"ct":1.04,"mm":1.04,"ab":0.95,"su":1.03,"sd":0.97,"pl":0.98,"ph":1.02},
{"p":4,"lo":380,"hi":437,"x":408,"v":1.12,"e":0.04,"bl":1.03,"bh":1.21,"ct":1.04,"mm":1.05,"ab":0.95,"su":1.03,"sd":0.97,"pl":0.98,"ph":1.02},
{"p":4,"lo":437,"hi":499,"x":467,"v":1.05,"e":0.04,"bl":0.97,"bh":1.13,"ct":1.04,"mm":1.05,"ab":0.95,"su":1.03,"sd":0.97,"pl":0.98,"ph":1.02},
{"p":4,"lo":499,"hi":569,"x":533,"v":1.02,"e":0.04,"bl":0.94,"bh":1.1,"ct":1.04,"mm":1.06,"ab":0.95,"su":1.03,"sd":0.97,"pl":0.98,"ph":1.02},
{"p":4,"lo":569,"hi":646,"x":607,"v":0.97,"e":0.04,"bl":0.89,"bh":1.05,"ct":1.04,"mm":1.06,"ab":0.95,"su":1.03,"sd":0.97,"pl":0.98,"ph":1.02},
{"p":4,"lo":646,"hi":732,"x":688,"v":0.94,"e":0.05,"bl":0.86,"bh":1.02,"ct":1.04,"mm":1.07,"ab":0.95,"su":1.03,"sd":0.97,"pl":0.98,"ph":1.02},
{"p":4,"lo":732,"hi":827,"x":778,"v":0.89,"e":0.06,"bl":0.8,"bh":0.98,"ct":1.03,"mm":1.07,"ab":0.95,"su":1.03,"sd":0.97,"pl":0.98,"ph":1.02},
{"p":4,"lo":827,"hi":931,"x":878,"v":0.84,"e":0.07,"bl":0.74,"bh":0.94,"ct":1.03,"mm":1.08,"ab":0.95,"su":1.03,"sd":0.97,"pl":0.97,"ph":1.03},
{"p":4,"lo":931,"hi":1046,"x":987,"v":0.73,"e":0.14,"bl":0.57,"bh":0.89,"ct":1.02,"mm":1.08,"ab":0.95,"su":1.03,"sd":0.97,"pl":0.96,"ph":1.04},
{"p":5,"lo":123,"hi":147,"x":134,"v":1.12,"e":0.01,"bl":1.09,"bh":1.15,"ct":1.0,"mm":1.0,"ab":0.96,"su":1.02,"sd":0.98,"pl":0.99,"ph":1.01},
{"p":5,"lo":147,"hi":175,"x":160,"v":1.12,"e":0.01,"bl":1.09,"bh":1.15,"ct":1.0,"mm":1.0,"ab":0.96,"su":1.02,"sd":0.98,"pl":0.99,"ph":1.01},
{"p":5,"lo":175,"hi":207,"x":190,"v":1.13,"e":0.01,"bl":1.1,"bh":1.16,"ct":1.01,"mm":1.01,"ab":0.96,"su":1.02,"sd":0.98,"pl":0.99,"ph":1.01},
{"p":5,"lo":207,"hi":243,"x":224,"v":1.12,"e":0.01,"bl":1.09,"bh":1.15,"ct":1.01,"mm":1.01,"ab":0.96,"su":1.02,"sd":0.98,"pl":0.99,"ph":1.01},
{"p":5,"lo":243,"hi":284,"x":264,"v":1.11,"e":0.01,"bl":1.08,"bh":1.14,"ct":1.01,"mm":1.02,"ab":0.96,"su":1.02,"sd":0.98,"pl":0.99,"ph":1.01},
{"p":5,"lo":284,"hi":329,"x":306,"v":1.08,"e":0.01,"bl":1.05,"bh":1.11,"ct":1.01,"mm":1.02,"ab":0.96,"su":1.02,"sd":0.98,"pl":0.99,"ph":1.01},
{"p":5,"lo":329,"hi":380,"x":353,"v":1.05,"e":0.01,"bl":1.02,"bh":1.08,"ct":1.02,"mm":1.02,"ab":0.96,"su":1.02,"sd":0.98,"pl":0.99,"ph":1.01},
{"p":5,"lo":380,"hi":437,"x":408,"v":1.04,"e":0.01,"bl":1.01,"bh":1.07,"ct":1.02,"mm":1.03,"ab":0.96,"su":1.02,"sd":0.98,"pl":0.99,"ph":1.01},
{"p":5,"lo":437,"hi":499,"x":467,"v":1.02,"e":0.01,"bl":0.99,"bh":1.05,"ct":1.02,"mm":1.03,"ab":0.96,"su":1.02,"sd":0.98,"pl":0.99,"ph":1.01},
{"p":5,"lo":499,"hi":569,"x":533,"v":0.97,"e":0.01,"bl":0.94,"bh":1.0,"ct":1.02,"mm":1.03,"ab":0.96,"su":1.02,"sd":0.98,"pl":0.99,"ph":1.01},
{"p":5,"lo":569,"hi":646,"x":607,"v":0.99,"e":0.01,"bl":0.96,"bh":1.02,"ct":1.02,"mm":1.04,"ab":0.96,"su":1.02,"sd":0.98,"pl":0.99,"ph":1.01},
{"p":5,"lo":646,"hi":732,"x":688,"v":0.97,"e":0.01,"bl":0.94,"bh":1.0,"ct":1.02,"mm":1.04,"ab":0.96,"su":1.02,"sd":0.98,"pl":0.99,"ph":1.01},
{"p":5,"lo":732,"hi":827,"x":778,"v":0.94,"e":0.02,"bl":0.91,"bh":0.97,"ct":1.02,"mm":1.04,"ab":0.96,"su":1.02,"sd":0.98,"pl":0.99,"ph":1.01},
{"p":5,"lo":827,"hi":931,"x":878,"v":0.91,"e":0.02,"bl":0.87,"bh":0.95,"ct":1.01,"mm":1.05,"ab":0.96,"su":1.02,"sd":0.98,"pl":0.99,"ph":1.01},
{"p":5,"lo":931,"hi":1046,"x":987,"v":0.87,"e":0.03,"bl":0.83,"bh":0.91,"ct":1.01,"mm":1.05,"ab":0.96,"su":1.02,"sd":0.98,"pl":0.98,"ph":1.02},
{"p":5,"lo":1046,"hi":1171,"x":1107,"v":0.84,"e":0.03,"bl":0.79,"bh":0.89,"ct":1.0,"mm":1.05,"ab":0.96,"su":1.02,"sd":0.98,"pl":0.98,"ph":1.02},
{"p":5,"lo":1171,"hi":1307,"x":1237,"v":0.7,"e":0.07,"bl":0.61,"bh":0.79,"ct":0.99,"mm":1.05,"ab":0.96,"su":1.02,"sd":0.98,"pl":0.97,"ph":1.03},
{"p":6,"lo":123,"hi":147,"x":134,"v":1.28,"e":0.02,"bl":1.21,"bh":1.35,"ct":1.01,"mm":1.02,"ab":0.95,"su":1.03,"sd":0.98,"pl":0.99,"ph":1.01},
{"p":6,"lo":147,"hi":175,"x":160,"v":1.29,"e":0.03,"bl":1.21,"bh":1.37,"ct":1.01,"mm":1.02,"ab":0.95,"su":1.03,"sd":0.98,"pl":0.99,"ph":1.01},
{"p":6,"lo":175,"hi":207,"x":190,"v":1.23,"e":0.04,"bl":1.14,"bh":1.32,"ct":1.02,"mm":1.02,"ab":0.95,"su":1.03,"sd":0.98,"pl":0.99,"ph":1.01},
{"p":6,"lo":207,"hi":243,"x":224,"v":1.25,"e":0.04,"bl":1.16,"bh":1.34,"ct":1.02,"mm":1.03,"ab":0.95,"su":1.03,"sd":0.98,"pl":0.99,"ph":1.01},
{"p":6,"lo":243,"hi":284,"x":264,"v":1.19,"e":0.04,"bl":1.1,"bh":1.28,"ct":1.02,"mm":1.03,"ab":0.95,"su":1.03,"sd":0.98,"pl":0.99,"ph":1.01},
{"p":6,"lo":284,"hi":329,"x":306,"v":1.16,"e":0.03,"bl":1.08,"bh":1.24,"ct":1.02,"mm":1.03,"ab":0.95,"su":1.03,"sd":0.98,"pl":0.99,"ph":1.01},
{"p":6,"lo":329,"hi":380,"x":353,"v":1.12,"e":0.03,"bl":1.04,"bh":1.2,"ct":1.02,"mm":1.03,"ab":0.95,"su":1.03,"sd":0.98,"pl":0.99,"ph":1.01},
{"p":6,"lo":380,"hi":437,"x":408,"v":1.03,"e":0.03,"bl":0.96,"bh":1.1,"ct":1.02,"mm":1.04,"ab":0.94,"su":1.03,"sd":0.98,"pl":0.99,"ph":1.01},
{"p":6,"lo":437,"hi":499,"x":467,"v":1.01,"e":0.03,"bl":0.94,"bh":1.08,"ct":1.02,"mm":1.04,"ab":0.94,"su":1.03,"sd":0.98,"pl":0.99,"ph":1.01},
{"p":6,"lo":499,"hi":569,"x":533,"v":0.98,"e":0.03,"bl":0.91,"bh":1.05,"ct":1.02,"mm":1.04,"ab":0.94,"su":1.03,"sd":0.98,"pl":0.99,"ph":1.01},
{"p":6,"lo":569,"hi":646,"x":607,"v":0.9,"e":0.03,"bl":0.83,"bh":0.97,"ct":1.01,"mm":1.04,"ab":0.94,"su":1.03,"sd":0.98,"pl":0.99,"ph":1.01},
{"p":6,"lo":646,"hi":732,"x":688,"v":0.82,"e":0.04,"bl":0.75,"bh":0.89,"ct":1.01,"mm":1.04,"ab":0.94,"su":1.03,"sd":0.98,"pl":0.99,"ph":1.01},
{"p":6,"lo":732,"hi":827,"x":778,"v":0.78,"e":0.05,"bl":0.7,"bh":0.86,"ct":1.0,"mm":1.04,"ab":0.94,"su":1.03,"sd":0.98,"pl":0.98,"ph":1.02},
{"p":6,"lo":827,"hi":931,"x":878,"v":0.75,"e":0.06,"bl":0.66,"bh":0.84,"ct":1.0,"mm":1.04,"ab":0.94,"su":1.03,"sd":0.98,"pl":0.96,"ph":1.04},
{"p":6,"lo":931,"hi":1046,"x":987,"v":0.7,"e":0.09,"bl":0.58,"bh":0.82,"ct":0.99,"mm":1.03,"ab":0.94,"su":1.03,"sd":0.98,"pl":0.88,"ph":1.12},
{"p":7,"lo":123,"hi":147,"x":134,"v":1.14,"e":0.01,"bl":1.06,"bh":1.22,"ct":1.01,"mm":1.01,"ab":0.93,"su":1.02,"sd":0.99,"pl":0.99,"ph":1.01},
{"p":7,"lo":147,"hi":175,"x":160,"v":1.08,"e":0.01,"bl":1.01,"bh":1.15,"ct":1.01,"mm":1.01,"ab":0.93,"su":1.02,"sd":0.99,"pl":0.99,"ph":1.01},
{"p":7,"lo":175,"hi":207,"x":190,"v":1.12,"e":0.01,"bl":1.05,"bh":1.19,"ct":1.01,"mm":1.02,"ab":0.93,"su":1.02,"sd":0.99,"pl":0.99,"ph":1.01},
{"p":7,"lo":207,"hi":243,"x":224,"v":1.09,"e":0.01,"bl":1.02,"bh":1.16,"ct":1.01,"mm":1.02,"ab":0.93,"su":1.02,"sd":0.99,"pl":0.99,"ph":1.01},
{"p":7,"lo":243,"hi":284,"x":264,"v":1.07,"e":0.01,"bl":1.01,"bh":1.13,"ct":1.01,"mm":1.02,"ab":0.93,"su":1.02,"sd":0.99,"pl":0.99,"ph":1.01},
{"p":7,"lo":284,"hi":329,"x":306,"v":1.06,"e":0.01,"bl":1.0,"bh":1.12,"ct":1.01,"mm":1.03,"ab":0.93,"su":1.02,"sd":0.99,"pl":0.99,"ph":1.01},
{"p":7,"lo":329,"hi":380,"x":353,"v":1.02,"e":0.01,"bl":0.96,"bh":1.08,"ct":1.01,"mm":1.03,"ab":0.93,"su":1.02,"sd":0.99,"pl":0.99,"ph":1.01},
{"p":7,"lo":380,"hi":437,"x":408,"v":1.0,"e":0.02,"bl":0.94,"bh":1.06,"ct":1.0,"mm":1.04,"ab":0.93,"su":1.02,"sd":0.99,"pl":0.99,"ph":1.01},
{"p":7,"lo":437,"hi":499,"x":467,"v":0.97,"e":0.02,"bl":0.91,"bh":1.03,"ct":1.0,"mm":1.04,"ab":0.93,"su":1.02,"sd":0.99,"pl":0.99,"ph":1.01},
{"p":7,"lo":499,"hi":569,"x":533,"v":0.95,"e":0.02,"bl":0.89,"bh":1.01,"ct":1.0,"mm":1.05,"ab":0.92,"su":1.02,"sd":0.99,"pl":0.99,"ph":1.01},
{"p":7,"lo":569,"hi":646,"x":607,"v":0.94,"e":0.02,"bl":0.88,"bh":1.0,"ct":1.0,"mm":1.05,"ab":0.92,"su":1.02,"sd":0.99,"pl":0.99,"ph":1.01},
{"p":7,"lo":646,"hi":732,"x":688,"v":0.88,"e":0.03,"bl":0.81,"bh":0.95,"ct":0.99,"mm":1.05,"ab":0.92,"su":1.02,"sd":0.99,"pl":0.98,"ph":1.02},
{"p":7,"lo":732,"hi":827,"x":778,"v":0.74,"e":0.03,"bl":0.66,"bh":0.82,"ct":0.98,"mm":1.06,"ab":0.91,"su":1.02,"sd":0.99,"pl":0.98,"ph":1.02},
{"p":7,"lo":827,"hi":931,"x":878,"v":0.72,"e":0.04,"bl":0.63,"bh":0.81,"ct":0.98,"mm":1.03,"ab":0.9,"su":1.02,"sd":0.99,"pl":0.96,"ph":1.04},
{"p":7,"lo":931,"hi":1046,"x":987,"v":0.64,"e":0.06,"bl":0.54,"bh":0.74,"ct":0.9,"mm":1.02,"ab":0.79,"su":1.02,"sd":0.99,"pl":0.95,"ph":1.15},
{"p":8,"lo":123,"hi":147,"x":134,"v":1.27,"e":0.03,"bl":1.15,"bh":1.39,"ct":1.01,"mm":1.01,"ab":0.93,"su":1.02,"sd":0.99,"pl":0.99,"ph":1.01},
{"p":8,"lo":147,"hi":175,"x":160,"v":1.23,"e":0.04,"bl":1.1,"bh":1.36,"ct":1.01,"mm":1.01,"ab":0.93,"su":1.02,"sd":0.99,"pl":0.99,"ph":1.01},
{"p":8,"lo":175,"hi":207,"x":190,"v":1.31,"e":0.05,"bl":1.16,"bh":1.46,"ct":1.01,"mm":1.02,"ab":0.93,"su":1.02,"sd":0.99,"pl":0.99,"ph":1.01},
{"p":8,"lo":207,"hi":243,"x":224,"v":1.3,"e":0.06,"bl":1.15,"bh":1.45,"ct":1.01,"mm":1.02,"ab":0.93,"su":1.02,"sd":0.99,"pl":0.99,"ph":1.01},
{"p":8,"lo":243,"hi":284,"x":264,"v":1.24,"e":0.05,"bl":1.1,"bh":1.38,"ct":1.01,"mm":1.03,"ab":0.93,"su":1.02,"sd":0.99,"pl":0.99,"ph":1.01},
{"p":8,"lo":284,"hi":329,"x":306,"v":1.16,"e":0.05,"bl":1.03,"bh":1.29,"ct":1.01,"mm":1.03,"ab":0.93,"su":1.02,"sd":0.99,"pl":0.99,"ph":1.01},
{"p":8,"lo":329,"hi":380,"x":353,"v":1.13,"e":0.05,"bl":1.02,"bh":1.24,"ct":1.0,"mm":1.04,"ab":0.93,"su":1.02,"sd":0.99,"pl":0.99,"ph":1.01},
{"p":8,"lo":380,"hi":437,"x":408,"v":1.06,"e":0.05,"bl":0.96,"bh":1.16,"ct":1.0,"mm":1.04,"ab":0.93,"su":1.02,"sd":0.99,"pl":0.99,"ph":1.01},
{"p":8,"lo":437,"hi":499,"x":467,"v":1.02,"e":0.05,"bl":0.93,"bh":1.11,"ct":0.99,"mm":1.05,"ab":0.93,"su":1.02,"sd":0.99,"pl":0.99,"ph":1.01},
{"p":8,"lo":499,"hi":569,"x":533,"v":0.93,"e":0.05,"bl":0.85,"bh":1.01,"ct":0.99,"mm":1.05,"ab":0.92,"su":1.02,"sd":0.99,"pl":0.99,"ph":1.01},
{"p":8,"lo":569,"hi":646,"x":607,"v":0.88,"e":0.05,"bl":0.8,"bh":0.96,"ct":0.98,"mm":1.05,"ab":0.92,"su":1.02,"sd":0.99,"pl":0.99,"ph":1.01},
{"p":8,"lo":646,"hi":732,"x":688,"v":0.73,"e":0.05,"bl":0.64,"bh":0.82,"ct":0.97,"mm":1.06,"ab":0.91,"su":1.02,"sd":0.99,"pl":0.98,"ph":1.02},
{"p":8,"lo":732,"hi":827,"x":778,"v":0.63,"e":0.06,"bl":0.53,"bh":0.73,"ct":0.93,"mm":1.06,"ab":0.89,"su":1.02,"sd":0.99,"pl":0.95,"ph":1.05},
{"p":8,"lo":827,"hi":931,"x":878,"v":0.52,"e":0.08,"bl":0.4,"bh":0.64,"ct":0.88,"mm":0.97,"ab":0.84,"su":1.02,"sd":0.99,"pl":0.92,"ph":1.18},
{"p":9,"lo":123,"hi":147,"x":134,"v":1.18,"e":0.02,"bl":1.04,"bh":1.32,"ct":1.02,"mm":1.03,"ab":0.93,"su":1.02,"sd":0.99,"pl":0.99,"ph":1.01},
{"p":9,"lo":147,"hi":175,"x":160,"v":1.26,"e":0.05,"bl":1.09,"bh":1.43,"ct":1.02,"mm":1.03,"ab":0.93,"su":1.02,"sd":0.99,"pl":0.99,"ph":1.01},
{"p":9,"lo":175,"hi":207,"x":190,"v":1.23,"e":0.05,"bl":1.06,"bh":1.4,"ct":1.02,"mm":1.03,"ab":0.93,"su":1.02,"sd":0.99,"pl":0.99,"ph":1.01},
{"p":9,"lo":207,"hi":243,"x":224,"v":1.32,"e":0.08,"bl":1.12,"bh":1.52,"ct":1.01,"mm":1.04,"ab":0.93,"su":1.02,"sd":0.99,"pl":0.99,"ph":1.01},
{"p":9,"lo":243,"hi":284,"x":264,"v":1.14,"e":0.05,"bl":0.99,"bh":1.29,"ct":1.01,"mm":1.05,"ab":0.93,"su":1.02,"sd":0.99,"pl":0.99,"ph":1.01},
{"p":9,"lo":284,"hi":329,"x":306,"v":1.09,"e":0.05,"bl":0.96,"bh":1.22,"ct":1.0,"mm":1.05,"ab":0.92,"su":1.02,"sd":0.99,"pl":0.99,"ph":1.01},
{"p":9,"lo":329,"hi":380,"x":353,"v":1.07,"e":0.06,"bl":0.95,"bh":1.19,"ct":1.0,"mm":1.06,"ab":0.92,"su":1.02,"sd":0.99,"pl":0.99,"ph":1.01},
{"p":9,"lo":380,"hi":437,"x":408,"v":0.98,"e":0.06,"bl":0.86,"bh":1.1,"ct":1.0,"mm":1.06,"ab":0.92,"su":1.02,"sd":0.99,"pl":0.99,"ph":1.01},
{"p":9,"lo":437,"hi":499,"x":467,"v":0.81,"e":0.06,"bl":0.63,"bh":0.99,"ct":0.99,"mm":1.07,"ab":0.91,"su":1.02,"sd":0.99,"pl":0.98,"ph":1.02},
{"p":9,"lo":499,"hi":569,"x":533,"v":0.76,"e":0.06,"bl":0.58,"bh":0.94,"ct":0.97,"mm":1.07,"ab":0.88,"su":1.02,"sd":0.99,"pl":0.96,"ph":1.04},
{"p":9,"lo":569,"hi":646,"x":607,"v":0.57,"e":0.09,"bl":0.27,"bh":0.87,"ct":0.87,"mm":1.06,"ab":0.8,"su":1.02,"sd":0.99,"pl":0.9,"ph":1.15},
{"p":9,"lo":646,"hi":732,"x":688,"v":0.48,"e":0.12,"bl":0.13,"bh":0.83,"ct":0.73,"mm":0.97,"ab":0.67,"su":1.02,"sd":0.99,"pl":0.7,"ph":1.35}
]
},
"spacing": 34,
"hconcat": [
{
"data": {"name": "L"},
"title": {"text": "35.9 fb⁻¹ (13 TeV)", "anchor": "end", "fontSize": 12, "fontWeight": "normal", "offset": 4},
"facet": {"row": {"field": "p", "type": "ordinal", "header": {"title": null, "labelExpr": "datum.value == 1 ? 'Ratio to NLO (NNPDF3.1)' : ''", "labelAngle": -90, "labelOrient": "left", "labelAnchor": "end", "labelFontSize": 19, "labelPadding": -7, "labelFont": "Liberation Sans"}}},
"spacing": {"row": -2},
"spec": {
"width": 325, "height": 136.3,
"resolve": {"axis": {"y": "independent"}},
"layer": [
{"transform": [{"filter": "isValid(datum.v)"}],
 "layer": [
  {"mark": {"type": "rect", "clip": true},
   "encoding": {
    "x": {"field": "lo", "type": "quantitative", "scale": {"type": "log", "domain": [75, 4000], "nice": false},
      "axis": {"title": "⟨pT⟩₁,₂ / GeV", "values": [80,90,100,200,300,400,500,600,700,800,900,1000,2000,3000,4000], "format": "d", "labelExpr": "indexof([100,200,500,1000,2000], datum.value) >= 0 ? datum.label : ''", "titleAnchor": "end", "titleFontSize": 17, "labelPadding": 12, "titlePadding": 6}},
    "x2": {"field": "hi"},
    "y": {"field": "bl", "type": "quantitative", "scale": {"domain": [0.17, 1.88], "nice": false, "zero": false},
      "axis": {"title": null, "values": [0.5, 1, 1.5], "format": ".1f", "labelPadding": 11}},
    "y2": {"field": "bh"},
    "fill": {"datum": "Data (Unfolded)", "type": "nominal", "scale": {"domain": ["Data (Unfolded)", "PDF uncertainty"], "range": ["#e0cfa2", "#d6d6d6"]},
      "legend": {"title": null, "orient": "none", "legendX": 792, "legendY": 14, "symbolType": "M-1,-0.8H3V0.8H-1Z", "symbolSize": 196, "symbolStrokeWidth": 0, "labelOffset": 26, "labelFontSize": 13.5, "rowPadding": 0}}
   }},
  {"mark": {"type": "rect", "clip": true, "opacity": 0.85},
   "encoding": {"x": {"field": "lo", "type": "quantitative"}, "x2": {"field": "hi"}, "y": {"field": "pl", "type": "quantitative"}, "y2": {"field": "ph"}, "fill": {"datum": "PDF uncertainty", "type": "nominal"}}},
  {"transform": [{"filter": "datum.ph - datum.pl > 0.05"}],
   "mark": {"type": "rect", "clip": true, "fill": {"gradient": "linear", "x1": 0, "y1": 0, "x2": 1, "y2": 1, "stops": [
     {"offset": 0, "color": "#9a9a9a"}, {"offset": 0.03, "color": "#9a9a9a"}, {"offset": 0.03, "color": "rgba(255,255,255,0)"}, {"offset": 0.125, "color": "rgba(255,255,255,0)"},
     {"offset": 0.125, "color": "#9a9a9a"}, {"offset": 0.155, "color": "#9a9a9a"}, {"offset": 0.155, "color": "rgba(255,255,255,0)"}, {"offset": 0.25, "color": "rgba(255,255,255,0)"},
     {"offset": 0.25, "color": "#9a9a9a"}, {"offset": 0.28, "color": "#9a9a9a"}, {"offset": 0.28, "color": "rgba(255,255,255,0)"}, {"offset": 0.375, "color": "rgba(255,255,255,0)"},
     {"offset": 0.375, "color": "#9a9a9a"}, {"offset": 0.405, "color": "#9a9a9a"}, {"offset": 0.405, "color": "rgba(255,255,255,0)"}, {"offset": 0.5, "color": "rgba(255,255,255,0)"},
     {"offset": 0.5, "color": "#9a9a9a"}, {"offset": 0.53, "color": "#9a9a9a"}, {"offset": 0.53, "color": "rgba(255,255,255,0)"}, {"offset": 0.625, "color": "rgba(255,255,255,0)"},
     {"offset": 0.625, "color": "#9a9a9a"}, {"offset": 0.655, "color": "#9a9a9a"}, {"offset": 0.655, "color": "rgba(255,255,255,0)"}, {"offset": 0.75, "color": "rgba(255,255,255,0)"},
     {"offset": 0.75, "color": "#9a9a9a"}, {"offset": 0.78, "color": "#9a9a9a"}, {"offset": 0.78, "color": "rgba(255,255,255,0)"}, {"offset": 0.875, "color": "rgba(255,255,255,0)"},
     {"offset": 0.875, "color": "#9a9a9a"}, {"offset": 0.905, "color": "#9a9a9a"}, {"offset": 0.905, "color": "rgba(255,255,255,0)"}, {"offset": 1, "color": "rgba(255,255,255,0)"}]}},
   "encoding": {"x": {"field": "lo", "type": "quantitative"}, "x2": {"field": "hi"}, "y": {"field": "pl", "type": "quantitative"}, "y2": {"field": "ph"}}}
 ]},
{"transform": [{"filter": "datum.lo == 123"}], "mark": {"type": "rule", "color": "#707070", "strokeDash": [5, 3], "strokeWidth": 1},
 "encoding": {"y": {"datum": 1, "type": "quantitative", "axis": {"orient": "right", "labels": false, "title": null, "values": [0.5, 1, 1.5], "tickSize": -7}}}},
{"transform": [{"filter": "isValid(datum.v)"}],
 "layer": [
  {"mark": {"type": "rule", "strokeWidth": 1.8, "clip": true},
   "encoding": {"x": {"field": "lo", "type": "quantitative"}, "x2": {"field": "hi"}, "y": {"field": "su", "type": "quantitative", "axis": null},
    "stroke": {"datum": "Scale uncertainty", "type": "nominal", "scale": {"domain": ["Scale uncertainty", "CT14", "MMHT2014", "ABMP16"], "range": ["black", "#e0191c", "#1a9db0", "#8aad00"]},
      "legend": {"title": null, "orient": "none", "legendX": 792, "legendY": 44, "symbolType": "M-1,0H3", "symbolSize": 196, "symbolStrokeWidth": 1.8, "labelOffset": 26, "labelFontSize": 13.5, "rowPadding": 0}},
    "strokeDash": {"datum": "Scale uncertainty", "type": "nominal", "scale": {"domain": ["Scale uncertainty", "CT14", "MMHT2014", "ABMP16"], "range": [[7, 2.5, 1.5, 2.5], [1, 0], [5, 3], [1.5, 2.5]]},
      "legend": {"title": null, "orient": "none", "legendX": 792, "legendY": 44, "symbolType": "M-1,0H3", "symbolSize": 196, "symbolStrokeWidth": 1.8, "labelOffset": 26, "labelFontSize": 13.5, "rowPadding": 0}}}},
  {"mark": {"type": "rule", "strokeWidth": 1.8, "clip": true},
   "encoding": {"x": {"field": "lo", "type": "quantitative"}, "x2": {"field": "hi"}, "y": {"field": "sd", "type": "quantitative", "axis": null}, "stroke": {"datum": "Scale uncertainty", "type": "nominal"}, "strokeDash": {"datum": "Scale uncertainty", "type": "nominal"}}},
  {"mark": {"type": "rule", "strokeWidth": 1.8, "clip": true},
   "encoding": {"x": {"field": "lo", "type": "quantitative"}, "x2": {"field": "hi"}, "y": {"field": "ab", "type": "quantitative", "axis": null}, "stroke": {"datum": "ABMP16", "type": "nominal"}, "strokeDash": {"datum": "ABMP16", "type": "nominal"}}},
  {"mark": {"type": "rule", "strokeWidth": 1.8, "clip": true},
   "encoding": {"x": {"field": "lo", "type": "quantitative"}, "x2": {"field": "hi"}, "y": {"field": "mm", "type": "quantitative", "axis": null}, "stroke": {"datum": "MMHT2014", "type": "nominal"}, "strokeDash": {"datum": "MMHT2014", "type": "nominal"}}},
  {"mark": {"type": "rule", "strokeWidth": 1.8, "clip": true},
   "encoding": {"x": {"field": "lo", "type": "quantitative"}, "x2": {"field": "hi"}, "y": {"field": "ct", "type": "quantitative", "axis": null}, "stroke": {"datum": "CT14", "type": "nominal"}, "strokeDash": {"datum": "CT14", "type": "nominal"}}},
  {"mark": {"type": "line", "interpolate": "step", "strokeWidth": 1.8, "clip": true},
   "encoding": {"x": {"field": "x", "type": "quantitative"}, "y": {"field": "ct", "type": "quantitative", "axis": null}, "stroke": {"datum": "CT14", "type": "nominal"}, "strokeDash": {"datum": "CT14", "type": "nominal"}}},
  {"mark": {"type": "errorbar", "ticks": false, "color": "black", "thickness": 1.6},
   "encoding": {"x": {"field": "x", "type": "quantitative"}, "y": {"field": "v", "type": "quantitative", "axis": null}, "yError": {"field": "e"}}},
  {"mark": {"type": "rule", "color": "black", "strokeWidth": 1.6},
   "encoding": {"x": {"field": "lo", "type": "quantitative"}, "x2": {"field": "hi"}, "y": {"field": "v", "type": "quantitative", "axis": null}}},
  {"mark": {"type": "point", "filled": true, "color": "black", "opacity": 1, "size": 70, "strokeWidth": 0},
   "encoding": {"x": {"field": "x", "type": "quantitative"}, "y": {"field": "v", "type": "quantitative", "axis": null},
    "shape": {"field": "p", "type": "nominal", "scale": {"domain": [1,2,3,4,5,6,7,8,9], "range": ["triangle-down","triangle-down","triangle-down","triangle-down","square","square","square","square","diamond"]}, "legend": null}}}
 ]},
{"transform": [{"filter": "isValid(datum.lab)"}], "mark": {"type": "text", "align": "right", "baseline": "middle", "fontSize": 11.5, "color": "black"},
 "encoding": {"x": {"datum": 3350}, "y": {"datum": 0.43, "axis": null}, "text": {"field": "lab"}}},
{"transform": [{"filter": "isValid(datum.r)"}], "mark": {"type": "text", "align": "left", "baseline": "middle", "fontSize": 13, "fontWeight": "bold", "color": "black"},
 "encoding": {"x": {"datum": 91}, "y": {"datum": 0.42, "axis": null}, "text": {"field": "r"}}}
]
}
},
{
"data": {"name": "R"},
"title": {"text": "35.9 fb⁻¹ (13 TeV)", "anchor": "end", "fontSize": 12, "fontWeight": "normal", "offset": 4},
"facet": {"row": {"field": "p", "type": "ordinal", "header": {"title": null, "labelExpr": "datum.value == 1 ? 'Ratio to NNLO (NNPDF3.1)' : ''", "labelAngle": -90, "labelOrient": "left", "labelAnchor": "end", "labelFontSize": 19, "labelPadding": 0, "labelFont": "Liberation Sans"}}},
"spacing": {"row": -2},
"spec": {
"width": 541, "height": 136.3,
"resolve": {"axis": {"y": "independent"}},
"layer": [
{"transform": [{"filter": "isValid(datum.v)"}],
 "layer": [
  {"mark": {"type": "rect", "clip": true},
   "encoding": {
    "x": {"field": "lo", "type": "quantitative", "scale": {"type": "log", "domain": [75, 30000], "nice": false},
      "axis": {"title": "⟨pT⟩₁,₂ / GeV", "values": [80,90,100,200,300,400,500,600,700,800,900,1000,2000,3000,4000,5000,6000,7000,8000,9000,10000,20000], "format": "d", "labelExpr": "datum.value == 10000 ? '10⁴' : (indexof([100,200,500,1000,2000,5000], datum.value) >= 0 ? datum.label : '')", "titleAnchor": "end", "titleFontSize": 17, "labelPadding": 12, "titlePadding": 6}},
    "x2": {"field": "hi"},
    "y": {"field": "bl", "type": "quantitative", "scale": {"domain": [0.17, 1.88], "nice": false, "zero": false},
      "axis": {"title": null, "values": [0.5, 1, 1.5], "format": ".1f", "labelPadding": 11}},
    "y2": {"field": "bh"},
    "fill": {"datum": "Data (Unfolded)", "type": "nominal"}
   }},
  {"mark": {"type": "rect", "clip": true, "opacity": 0.85},
   "encoding": {"x": {"field": "lo", "type": "quantitative"}, "x2": {"field": "hi"}, "y": {"field": "pl", "type": "quantitative"}, "y2": {"field": "ph"}, "fill": {"datum": "PDF uncertainty", "type": "nominal"}}},
  {"transform": [{"filter": "datum.ph - datum.pl > 0.05"}],
   "mark": {"type": "rect", "clip": true, "fill": {"gradient": "linear", "x1": 0, "y1": 0, "x2": 1, "y2": 1, "stops": [
     {"offset": 0, "color": "#9a9a9a"}, {"offset": 0.03, "color": "#9a9a9a"}, {"offset": 0.03, "color": "rgba(255,255,255,0)"}, {"offset": 0.125, "color": "rgba(255,255,255,0)"},
     {"offset": 0.125, "color": "#9a9a9a"}, {"offset": 0.155, "color": "#9a9a9a"}, {"offset": 0.155, "color": "rgba(255,255,255,0)"}, {"offset": 0.25, "color": "rgba(255,255,255,0)"},
     {"offset": 0.25, "color": "#9a9a9a"}, {"offset": 0.28, "color": "#9a9a9a"}, {"offset": 0.28, "color": "rgba(255,255,255,0)"}, {"offset": 0.375, "color": "rgba(255,255,255,0)"},
     {"offset": 0.375, "color": "#9a9a9a"}, {"offset": 0.405, "color": "#9a9a9a"}, {"offset": 0.405, "color": "rgba(255,255,255,0)"}, {"offset": 0.5, "color": "rgba(255,255,255,0)"},
     {"offset": 0.5, "color": "#9a9a9a"}, {"offset": 0.53, "color": "#9a9a9a"}, {"offset": 0.53, "color": "rgba(255,255,255,0)"}, {"offset": 0.625, "color": "rgba(255,255,255,0)"},
     {"offset": 0.625, "color": "#9a9a9a"}, {"offset": 0.655, "color": "#9a9a9a"}, {"offset": 0.655, "color": "rgba(255,255,255,0)"}, {"offset": 0.75, "color": "rgba(255,255,255,0)"},
     {"offset": 0.75, "color": "#9a9a9a"}, {"offset": 0.78, "color": "#9a9a9a"}, {"offset": 0.78, "color": "rgba(255,255,255,0)"}, {"offset": 0.875, "color": "rgba(255,255,255,0)"},
     {"offset": 0.875, "color": "#9a9a9a"}, {"offset": 0.905, "color": "#9a9a9a"}, {"offset": 0.905, "color": "rgba(255,255,255,0)"}, {"offset": 1, "color": "rgba(255,255,255,0)"}]}},
   "encoding": {"x": {"field": "lo", "type": "quantitative"}, "x2": {"field": "hi"}, "y": {"field": "pl", "type": "quantitative"}, "y2": {"field": "ph"}}}
 ]},
{"transform": [{"filter": "datum.lo == 123"}], "mark": {"type": "rule", "color": "#707070", "strokeDash": [5, 3], "strokeWidth": 1},
 "encoding": {"y": {"datum": 1, "type": "quantitative", "axis": {"orient": "right", "labels": false, "title": null, "values": [0.5, 1, 1.5], "tickSize": -7}}}},
{"transform": [{"filter": "isValid(datum.v)"}],
 "layer": [
  {"mark": {"type": "rule", "strokeWidth": 1.8, "clip": true},
   "encoding": {"x": {"field": "lo", "type": "quantitative"}, "x2": {"field": "hi"}, "y": {"field": "su", "type": "quantitative", "axis": null}, "stroke": {"datum": "Scale uncertainty", "type": "nominal"}, "strokeDash": {"datum": "Scale uncertainty", "type": "nominal"}}},
  {"mark": {"type": "rule", "strokeWidth": 1.8, "clip": true},
   "encoding": {"x": {"field": "lo", "type": "quantitative"}, "x2": {"field": "hi"}, "y": {"field": "sd", "type": "quantitative", "axis": null}, "stroke": {"datum": "Scale uncertainty", "type": "nominal"}, "strokeDash": {"datum": "Scale uncertainty", "type": "nominal"}}},
  {"mark": {"type": "rule", "strokeWidth": 1.8, "clip": true},
   "encoding": {"x": {"field": "lo", "type": "quantitative"}, "x2": {"field": "hi"}, "y": {"field": "ab", "type": "quantitative", "axis": null}, "stroke": {"datum": "ABMP16", "type": "nominal"}, "strokeDash": {"datum": "ABMP16", "type": "nominal"}}},
  {"mark": {"type": "rule", "strokeWidth": 1.8, "clip": true},
   "encoding": {"x": {"field": "lo", "type": "quantitative"}, "x2": {"field": "hi"}, "y": {"field": "mm", "type": "quantitative", "axis": null}, "stroke": {"datum": "MMHT2014", "type": "nominal"}, "strokeDash": {"datum": "MMHT2014", "type": "nominal"}}},
  {"mark": {"type": "rule", "strokeWidth": 1.8, "clip": true},
   "encoding": {"x": {"field": "lo", "type": "quantitative"}, "x2": {"field": "hi"}, "y": {"field": "ct", "type": "quantitative", "axis": null}, "stroke": {"datum": "CT14", "type": "nominal"}, "strokeDash": {"datum": "CT14", "type": "nominal"}}},
  {"mark": {"type": "line", "interpolate": "step", "strokeWidth": 1.8, "clip": true},
   "encoding": {"x": {"field": "x", "type": "quantitative"}, "y": {"field": "ct", "type": "quantitative", "axis": null}, "stroke": {"datum": "CT14", "type": "nominal"}, "strokeDash": {"datum": "CT14", "type": "nominal"}}},
  {"mark": {"type": "errorbar", "ticks": false, "color": "black", "thickness": 1.6},
   "encoding": {"x": {"field": "x", "type": "quantitative"}, "y": {"field": "v", "type": "quantitative", "axis": null}, "yError": {"field": "e"}}},
  {"mark": {"type": "rule", "color": "black", "strokeWidth": 1.6},
   "encoding": {"x": {"field": "lo", "type": "quantitative"}, "x2": {"field": "hi"}, "y": {"field": "v", "type": "quantitative", "axis": null}}},
  {"mark": {"type": "point", "filled": true, "color": "black", "opacity": 1, "size": 70, "strokeWidth": 0},
   "encoding": {"x": {"field": "x", "type": "quantitative"}, "y": {"field": "v", "type": "quantitative", "axis": null},
    "shape": {"field": "p", "type": "nominal", "legend": null}}}
 ]},
{"transform": [{"filter": "isValid(datum.lab)"}], "mark": {"type": "text", "align": "right", "baseline": "middle", "fontSize": 11.5, "color": "black"},
 "encoding": {"x": {"datum": 25500}, "y": {"datum": 0.43, "axis": null}, "text": {"field": "lab"}}},
{"transform": [{"filter": "isValid(datum.r)"}], "mark": {"type": "text", "align": "left", "baseline": "middle", "fontSize": 13, "fontWeight": "bold", "color": "black"},
 "encoding": {"x": {"datum": 89}, "y": {"datum": 0.42, "axis": null}, "text": {"field": "r"}}}
]
}
}
],
"config": {
"font": "Liberation Sans",
"view": {"stroke": "black", "strokeWidth": 1},
"axis": {"grid": false, "domain": false, "tickColor": "black", "tickSize": -7, "labelColor": "black", "labelFontSize": 14, "titleColor": "black", "titleFontWeight": "normal", "labelFont": "Liberation Sans", "titleFont": "Liberation Sans"},
"legend": {"labelColor": "black", "labelFont": "Liberation Sans"}
}
}
